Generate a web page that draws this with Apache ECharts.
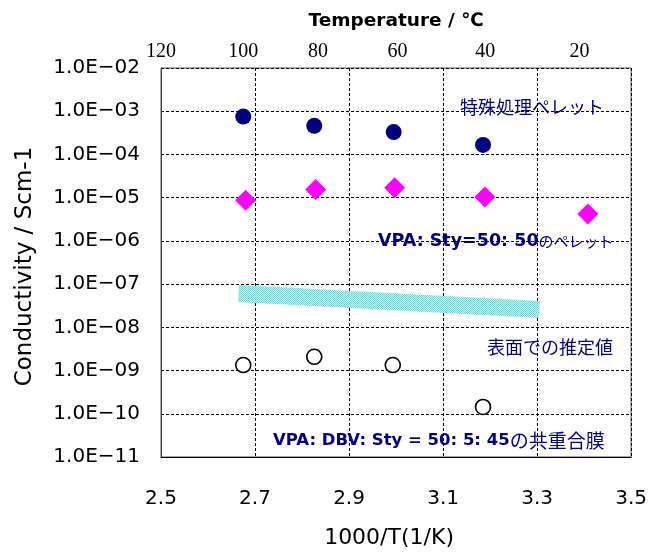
<!DOCTYPE html>
<html><head><meta charset="utf-8">
<script src="https://cdn.jsdelivr.net/npm/echarts@6/dist/echarts.min.js"></script>
<style>html,body{margin:0;padding:0;background:#fff}#c{width:650px;height:554px}</style>
</head><body><div id="c"></div>
<script>
// Data
const xTicks = [2.5, 2.7, 2.9, 3.1, 3.3, 3.5];
const yTickLabels = ['1.0E−11','1.0E−10','1.0E−09','1.0E−08','1.0E−07','1.0E−06','1.0E−05','1.0E−04','1.0E−03','1.0E−02'];
const yTickExp = [-11,-10,-9,-8,-7,-6,-5,-4,-3,-2];
const topTempLabels = ['120','100','80','60','40','20'];
const topTempPos = [2.5, 2.675, 2.834, 3.003, 3.19, 3.39];

const specialX = [2.675, 2.826, 2.995, 3.185];
const specialY = [7.5e-4, 4.6e-4, 3.3e-4, 1.66e-4];
const pelletX = [2.68, 2.829, 2.997, 3.189, 3.408];
const pelletY = [8.7e-6, 1.55e-5, 1.69e-5, 1.04e-5, 4.19e-6];
const filmX = [2.675, 2.826, 2.993, 3.185];
const filmY = [1.34e-9, 2.08e-9, 1.34e-9, 1.44e-10];
const surfaceX = [2.665, 3.305];
const surfaceY = [6.1e-8, 2.6e-8];

const zip = (a, b) => a.map((v, i) => [v, b[i]]);
const navy = '#000080';
const cjk = '"Noto Sans CJK JP", sans-serif';
const sans = '"DejaVu Sans", sans-serif';

// dithered teal pattern for the estimated band
const pat = document.createElement('canvas');
pat.width = 2; pat.height = 2;
const pc = pat.getContext('2d');
pc.fillStyle = '#d6f1f1'; pc.fillRect(0, 0, 2, 2);
pc.fillStyle = '#7ccfcf'; pc.fillRect(0, 0, 1, 1); pc.fillRect(1, 1, 1, 1);

const chart = echarts.init(document.getElementById('c'), null, {renderer: 'canvas'});
chart.setOption({
  animation: false,
  backgroundColor: '#fff',
  grid: {left: 161, top: 68, width: 473, height: 397, show: true, borderColor: '#555', borderWidth: 1, backgroundColor: 'transparent'},
  xAxis: [{
    type: 'value', min: 2.5, max: 3.5, interval: 0.2, position: 'bottom',
    axisLine: {show: true, lineStyle: {color: '#000', width: 1}},
    axisTick: {show: false},
    axisLabel: {margin: 32, fontSize: 20, color: '#000', fontFamily: sans,
      formatter: v => { const i = xTicks.findIndex(t => Math.abs(t - v) < 1e-6); return i >= 0 ? xTicks[i].toFixed(1) : ''; }},
    splitLine: {show: true, lineStyle: {color: '#000', type: [3, 2], width: 1}},
    name: '1000/T(1/K)', nameLocation: 'middle', nameGap: 70,
    nameTextStyle: {fontSize: 22, color: '#000', fontFamily: sans, padding: [0, 14, 0, 0]}
  }, {
    type: 'value', min: 2.5, max: 3.5, position: 'top',
    axisLine: {show: false}, axisTick: {show: false}, splitLine: {show: false},
    axisLabel: {customValues: topTempPos, margin: 6, fontSize: 20, color: '#000', fontFamily: '"Liberation Serif", serif',
      formatter: v => { const i = topTempPos.findIndex(t => Math.abs(t - v) < 1e-6); return i >= 0 ? topTempLabels[i] : ''; }},
    name: 'Temperature / ℃', nameLocation: 'middle', nameGap: 37,
    nameTextStyle: {fontSize: 18.5, fontWeight: 'bold', color: '#000', fontFamily: sans}
  }],
  yAxis: {
    type: 'log', logBase: 10, min: 1e-11, max: 1e-2, interval: 1,
    axisLine: {show: true, lineStyle: {color: '#444'}},
    axisTick: {show: false},
    axisLabel: {margin: 21, fontSize: 20, color: '#000', fontFamily: sans,
      formatter: v => { const e = Math.round(Math.log10(v)); const i = yTickExp.indexOf(e); return i >= 0 ? yTickLabels[i] : ''; }},
    splitLine: {show: true, lineStyle: {color: '#000', type: [3, 2], width: 1}},
    name: 'Conductivity / Scm-1', nameLocation: 'middle', nameGap: 124,
    nameTextStyle: {fontSize: 23, color: '#000', fontFamily: sans, padding: [0, 8, 0, 0]}
  },
  series: [
    {type: 'line', data: zip(surfaceX, surfaceY), symbol: 'none', silent: true,
      lineStyle: {color: {image: pat, repeat: 'repeat'}, width: 17, cap: 'butt'}, z: 2},
    {type: 'scatter', data: zip(specialX, specialY), symbol: 'circle', symbolSize: 16,
      itemStyle: {color: navy, opacity: 1}, z: 3},
    {type: 'scatter', data: zip(pelletX, pelletY), symbol: 'diamond', symbolSize: [21, 21],
      itemStyle: {color: '#ff00ff', opacity: 1}, z: 3},
    {type: 'scatter', data: zip(filmX, filmY), symbol: 'circle', symbolSize: 15,
      itemStyle: {color: '#fff', borderColor: '#000', borderWidth: 1.6, opacity: 1}, z: 3}
  ],
  graphic: [
    {type: 'text', left: 460, top: 98, style: {text: '特殊処理ペレット', fill: navy, font: '18px "Noto Sans CJK JP"'}},
    {type: 'text', left: 378, top: 232, style: {text: '{b|VPA: Sty=50: 50}{n|のペレット}',
      rich: {b: {fontSize: 17.5, fontWeight: 'bold', fill: navy, fontFamily: 'DejaVu Sans', verticalAlign: 'middle'},
             n: {fontSize: 15, fill: navy, fontFamily: 'Noto Sans CJK JP', verticalAlign: 'middle'}}}},
    {type: 'text', left: 487, top: 338, style: {text: '表面での推定値', fill: navy, font: '18px "Noto Sans CJK JP"'}},
    {type: 'text', left: 273, top: 431, style: {text: '{b|VPA: DBV: Sty = 50: 5: 45}{n|の共重合膜}',
      rich: {b: {fontSize: 16.5, fontWeight: 'bold', fill: navy, fontFamily: 'DejaVu Sans', verticalAlign: 'middle'},
             n: {fontSize: 19, fill: navy, fontFamily: 'Noto Sans CJK JP', verticalAlign: 'middle'}}}}
  ]
});
</script></body></html>
